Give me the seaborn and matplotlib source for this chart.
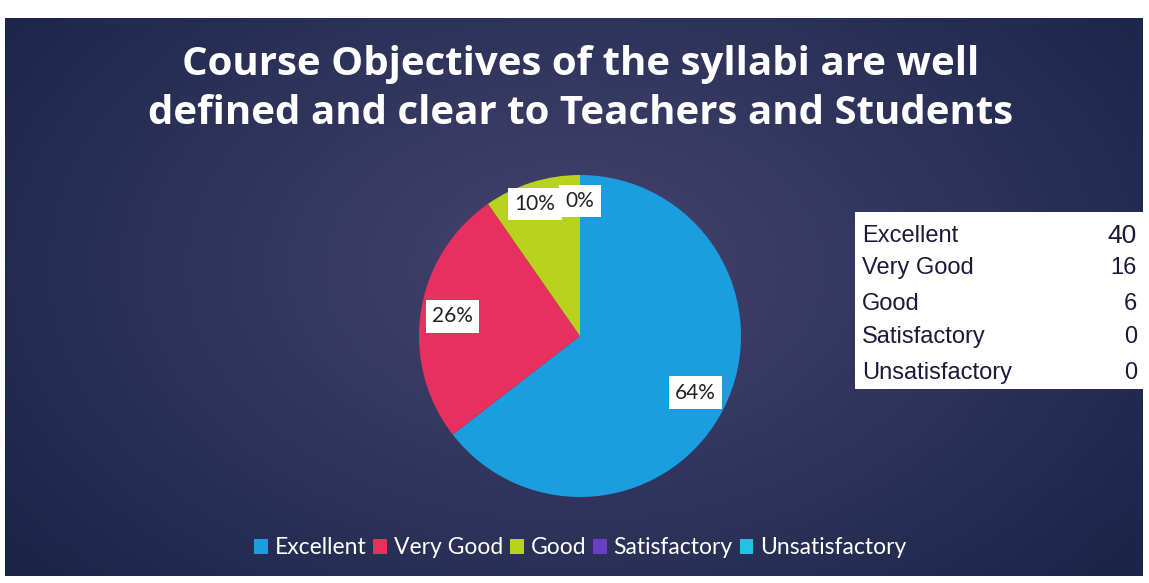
import numpy as np
import matplotlib
matplotlib.use("Agg")
import matplotlib.pyplot as plt
import seaborn as sns
from matplotlib.patches import Rectangle, Patch

# data
categories = ["Excellent", "Very Good", "Good", "Satisfactory", "Unsatisfactory"]
counts = [40, 16, 6, 0, 0]
pct_labels = ["64%", "26%", "10%", "0%", "0%"]
title = "Course Objectives of the syllabi are well\ndefined and clear to Teachers and Students"

colors = ["#1a9ee0", "#e8305e", "#b9d21e", "#6a3fc6", "#1fc3e3"]

sns.set_theme(style="white")
plt.rcParams["font.family"] = ["Lato", "DejaVu Sans"]

W, H = 1149, 583
fig = plt.figure(figsize=(W / 100, H / 100), dpi=100)
fig.patch.set_facecolor("white")

# dark panel with a soft radial glow
px0, px1, py0, py1 = 5, 1143, 18, 576
bg = fig.add_axes([px0 / W, 1 - py1 / H, (px1 - px0) / W, (py1 - py0) / H])
yy, xx = np.mgrid[0:1:200j, 0:1:400j]
d = np.sqrt(((xx - 0.5) * 1.6) ** 2 + ((yy - 0.45) * 1.2) ** 2)
d = np.clip(d, 0, 1)
inner = np.array([0x46, 0x44, 0x70]) / 255
outer = np.array([0x1a, 0x25, 0x48]) / 255
img = inner[None, None, :] * (1 - d[..., None]) + outer[None, None, :] * d[..., None]
bg.imshow(img, aspect="auto", extent=[0, 1, 0, 1])
bg.set_axis_off()

fig.text(0.505, 1 - 89 / H, title, ha="center", va="center", color="white",
         fontsize=29, fontweight="bold", linespacing=1.33,
         family=["Open Sans", "DejaVu Sans"])

# pie
cx, cy, r = 580, 336, 161
ax = fig.add_axes([(cx - r) / W, 1 - (cy + r) / H, 2 * r / W, 2 * r / H])
wedges, texts = ax.pie(counts, colors=colors, startangle=90, counterclock=False,
                       labels=pct_labels, labeldistance=0.8,
                       wedgeprops=dict(linewidth=0),
                       textprops=dict(fontsize=15, color="#222222", ha="center", va="center",
                                      bbox=dict(boxstyle="square,pad=0.3", fc="white", ec="none")))
ax.set_xlim(-1, 1)
ax.set_ylim(-1, 1)
ax.set_aspect("equal")
ax.set_axis_off()
texts[2].set_position((-0.28, 0.82))
texts[3].set_position((0.0, 0.84))
texts[4].set_position((0.0, 0.84))

# value table on the right
tx0, tx1, ty0, ty1 = 855, 1143, 212, 389
fig.patches.append(Rectangle((tx0 / W, 1 - ty1 / H), (tx1 - tx0) / W, (ty1 - ty0) / H,
                             transform=fig.transFigure, fc="white", ec="none", zorder=5))
row_y = [236, 268, 304, 337, 373]
for name, val, yrow in zip(categories, counts, row_y):
    fig.text(862 / W, 1 - yrow / H, name, ha="left", va="center", fontsize=17,
             family=["Liberation Sans", "DejaVu Sans"], color="#1a1a3a", zorder=6)
    fig.text(1137 / W, 1 - yrow / H, str(val), ha="right", va="center",
             fontsize=19 if val >= 40 else 17,
             family=["Liberation Sans", "DejaVu Sans"], color="#1a1a3a", zorder=6)

# legend
handles = [Patch(facecolor=c, edgecolor="none") for c in colors]
leg = fig.legend(handles, categories, loc="center", bbox_to_anchor=(0.505, 1 - 548 / H),
                 ncol=5, frameon=False, fontsize=16.5, handlelength=0.6, handleheight=0.6,
                 handletextpad=0.3, columnspacing=0.3, labelcolor="white")

fig.savefig("out.png", dpi=100, facecolor=fig.get_facecolor())
